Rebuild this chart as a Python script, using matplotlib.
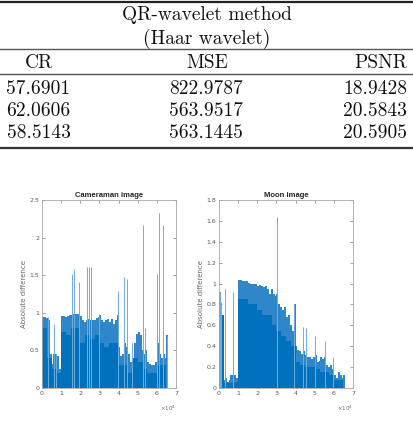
import numpy as np
import matplotlib
matplotlib.use("Agg")
import matplotlib.pyplot as plt
from matplotlib.lines import Line2D

# ---------------- table data ----------------
table_title = ["QR-wavelet method", "(Haar wavelet)"]
col_headers = ["CR", "MSE", "PSNR"]
cr_vals = ["57.6901", "62.0606", "58.5143"]
mse_vals = ["822.9787", "563.9517", "563.1445"]
psnr_vals = ["18.9428", "20.5843", "20.5905"]

# ---------------- plot data (x in units of 1e4, bins of 0.1) ----------------
cam_env = [0.95, 0.95, 0.93, 0.90, 0.45, 0.32, 0.45, 0.45, 0.42, 0.25,
           0.96, 0.96, 0.95, 0.96, 0.97, 0.97, 0.98, 0.98, 0.99, 0.98,
           0.96, 0.90, 0.88, 0.90, 0.92, 0.90, 0.90, 0.90, 0.93, 0.95,
           0.97, 0.90, 0.88, 0.90, 0.92, 0.88, 0.92, 0.85, 0.90, 0.97,
           0.55, 0.42, 0.45, 0.60, 0.55, 0.45, 0.35, 0.38, 0.60, 0.72,
           0.75, 0.70, 0.50, 0.45, 0.50, 0.35, 0.32, 0.30, 0.30, 0.35,
           0.60, 0.45, 0.40, 0.45, 0.40, 0.70]
cam_core = [0.80, 0.40, 0.25, 0.20, 0.75, 0.70, 0.80, 0.80, 0.60, 0.70,
            0.65, 0.70, 0.60, 0.55, 0.60, 0.60, 0.30, 0.30, 0.20, 0.40,
            0.35, 0.25, 0.20, 0.20, 0.30, 0.30]
cam_spike_x = [0.33, 0.62, 0.75, 1.55, 1.69, 1.95, 2.34, 2.45, 2.56, 3.00,
               3.98, 4.29, 4.46, 4.72, 5.30, 5.40, 5.99, 6.13, 6.30, 6.52]
cam_spike_h = [0.95, 0.85, 0.45, 1.52, 1.58, 1.41, 1.61, 1.61, 1.61, 0.98,
               1.29, 1.47, 1.45, 0.60, 2.17, 0.80, 1.52, 2.33, 2.17, 0.69]

moon_env = [0.92, 0.10, 0.08, 0.10, 0.06, 0.08, 0.12, 0.12, 0.12, 0.10,
            1.03, 1.03, 1.02, 1.02, 1.02, 1.01, 1.00, 1.00, 1.00, 1.00,
            0.98, 0.99, 0.98, 0.97, 0.98, 0.95, 0.90, 0.95, 0.90, 0.88,
            0.90, 0.80, 0.78, 0.75, 0.78, 0.68, 0.70, 0.60, 0.55, 0.80,
            0.40, 0.36, 0.35, 0.33, 0.35, 0.32, 0.30, 0.30, 0.28, 0.30,
            0.32, 0.25, 0.26, 0.30, 0.28, 0.30, 0.22, 0.20, 0.22, 0.18,
            0.12, 0.10, 0.15, 0.12, 0.10, 0.12]
moon_core = [0.70, 0.05, 0.05, 0.06, 0.85, 0.85, 0.80, 0.80, 0.75, 0.70,
             0.70, 0.60, 0.55, 0.50, 0.45, 0.40, 0.25, 0.22, 0.20, 0.20,
             0.18, 0.15, 0.15, 0.12, 0.08, 0.08]
moon_spike_x = [0.05, 0.12, 0.33, 0.72, 3.03, 3.94, 4.40, 4.55, 5.00, 5.55, 5.95]
moon_spike_h = [0.92, 0.82, 0.95, 0.92, 1.64, 0.80, 0.58, 0.57, 0.50, 0.45, 0.30]

W, H = 413, 421
fig = plt.figure(figsize=(W / 100, H / 100), dpi=100)
fig.patch.set_facecolor("white")

def fy(ypix):
    return 1 - ypix / H

def fx(xpix):
    return xpix / W

# ---------------- table ----------------
tfont = dict(family="cmr10", fontsize=14, color="#111111")
fig.text(fx(207), fy(19.5), table_title[0], ha="center", va="baseline", **tfont)
fig.text(fx(207), fy(44), table_title[1], ha="center", va="baseline", **tfont)
fig.text(fx(39), fy(67.5), col_headers[0], ha="center", va="baseline", **tfont)
fig.text(fx(207), fy(67.5), col_headers[1], ha="center", va="baseline", **tfont)
fig.text(fx(407), fy(67.5), col_headers[2], ha="right", va="baseline", **tfont)
for i, yb in enumerate([93.5, 116, 137.5]):
    fig.text(fx(38.5), fy(yb), cr_vals[i], ha="center", va="baseline", **tfont)
    fig.text(fx(206), fy(yb), mse_vals[i], ha="center", va="baseline", **tfont)
    fig.text(fx(407), fy(yb), psnr_vals[i], ha="right", va="baseline", **tfont)

for yp, lw, c in [(1.5, 1.6, "#222222"), (49, 1.0, "#555555"),
                  (74, 1.0, "#555555"), (148, 1.6, "#333333")]:
    fig.add_artist(Line2D([0, 1], [fy(yp), fy(yp)], lw=lw, color=c,
                          transform=fig.transFigure))

# ---------------- plots ----------------
blue = "#0072BD"

def make_plot(left, right, title, env, core, sx, sh, ymax, yticks, ylab_x):
    ax = fig.add_axes([fx(left), fy(388), fx(right) - fx(left), (388 - 200) / H])
    xe = np.arange(len(env)) * 0.1
    xc = np.arange(len(core)) * 0.25
    ax.vlines(sx, 0, sh, color="#6aaee0", lw=0.7)
    ax.bar(xe, env, width=0.1, align="edge", color="#2f86c8", linewidth=0)
    ax.bar(xc, core, width=0.25, align="edge", color=blue, linewidth=0)
    ax.set_xlim(0, 7)
    ax.set_ylim(0, ymax)
    ax.set_xticks(range(8))
    ax.set_yticks(yticks)
    ax.set_yticklabels([("%g" % t) for t in yticks])
    ax.tick_params(direction="in", length=2, width=0.4, labelsize=4.5,
                   colors="#555555", top=True, right=True, pad=2)
    for s in ax.spines.values():
        s.set_color("#aaaaaa")
        s.set_linewidth(0.6)
    ax.set_title(title, fontsize=5.5, fontweight="bold", pad=2,
                 family="Liberation Sans", color="#222222")
    ax.set_ylabel("Absolute difference", fontsize=5, color="#666666", labelpad=2)
    ax.text(1.0, -0.11, r"$\times10^4$", transform=ax.transAxes, ha="right",
            va="center", fontsize=4, color="#666666")
    return ax

make_plot(42, 176, "Cameraman image", cam_env, cam_core, cam_spike_x, cam_spike_h,
          2.5, [0, 0.5, 1, 1.5, 2, 2.5], 27)
make_plot(219, 353, "Moon image", moon_env, moon_core, moon_spike_x, moon_spike_h,
          1.8, [0, 0.2, 0.4, 0.6, 0.8, 1, 1.2, 1.4, 1.6, 1.8], 205)

fig.savefig("out.png", dpi=100)
